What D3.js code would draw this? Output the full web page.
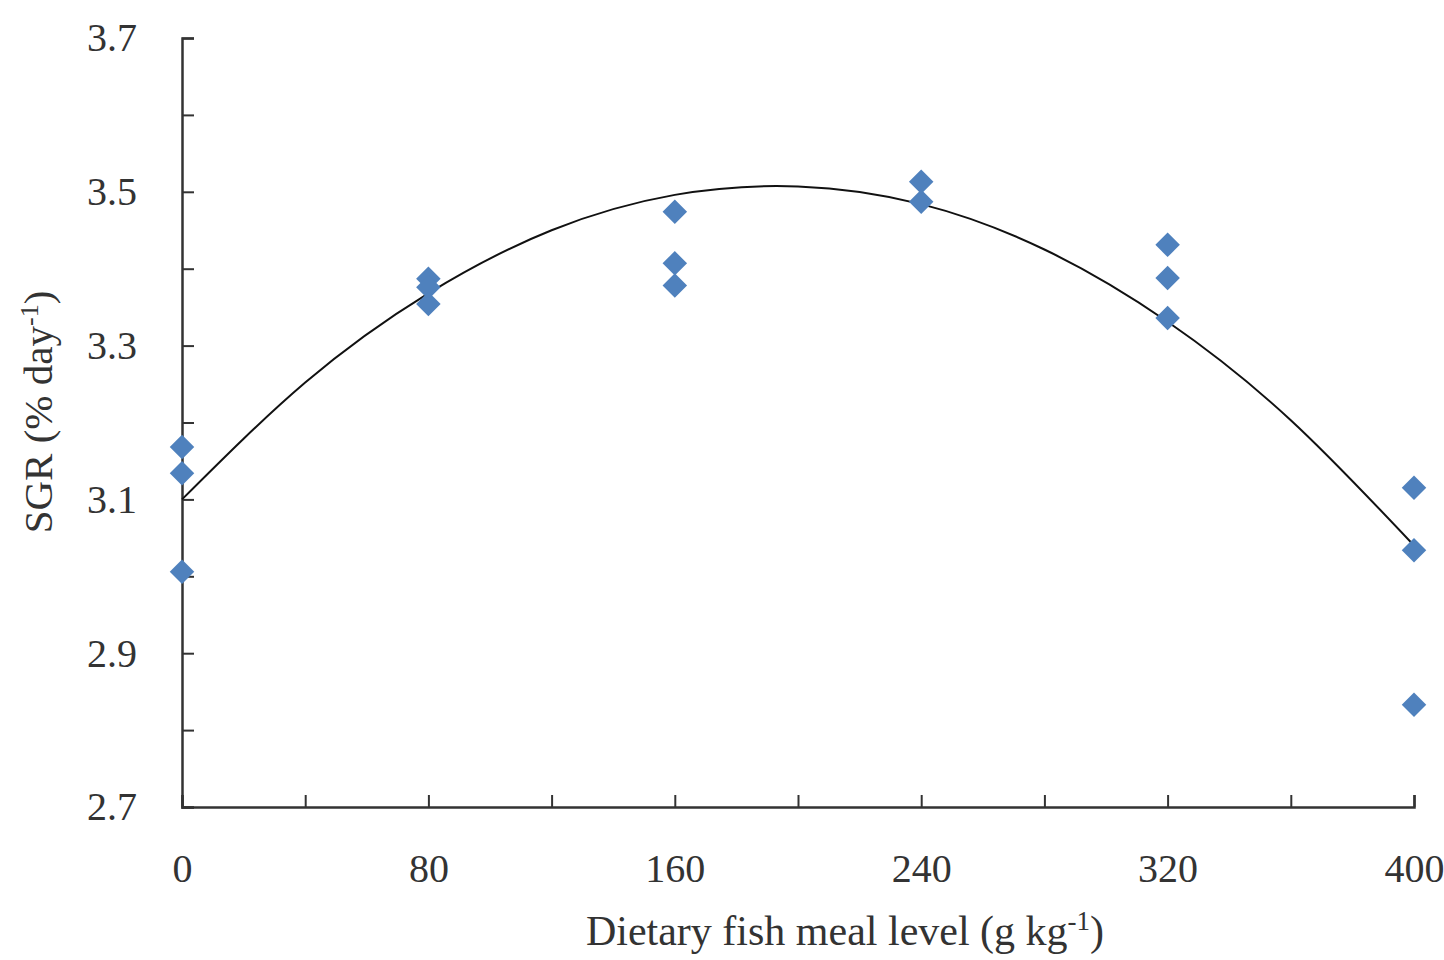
<!DOCTYPE html>
<html>
<head>
<meta charset="utf-8">
<script src="https://cdn.jsdelivr.net/npm/d3@7"></script>
<style>
  body { margin: 0; background: #fff; }
  svg text { font-family: "Liberation Serif", "Times New Roman", serif; fill: #333; }
</style>
</head>
<body>
<svg width="1444" height="960"></svg>
<script>
// fish meal level (g/kg) for each observation
var levels = [0, 0, 0, 80, 80, 80, 160, 160, 160, 240, 240, 320, 320, 320, 400, 400, 400];
// specific growth rate (% per day)
var sgr = [3.168, 3.134, 3.006, 3.387, 3.376, 3.354, 3.474, 3.407, 3.378, 3.513, 3.487, 3.431, 3.388, 3.336, 3.115, 3.034, 2.833];

// trend line
var curveX = [0, 40, 80, 120, 160, 200, 240, 280, 320, 360, 400];
var curveY = [3.100, 3.252, 3.368, 3.450, 3.496, 3.507, 3.484, 3.425, 3.331, 3.203, 3.040];

var xTicks = [0, 40, 80, 120, 160, 200, 240, 280, 320, 360, 400];
var xTickLabels = ["0", "", "80", "", "160", "", "240", "", "320", "", "400"];
var yTicks = [2.7, 2.8, 2.9, 3.0, 3.1, 3.2, 3.3, 3.4, 3.5, 3.6, 3.7];
var yTickLabels = ["2.7", "", "2.9", "", "3.1", "", "3.3", "", "3.5", "", "3.7"];

var svg = d3.select("svg");
var axisColor = "#333";

var x = d3.scaleLinear().domain([0, 400]).range([182, 1414]);
var y = d3.scaleLinear().domain([2.7, 3.7]).range([807, 38]);

// axes, ticks pointing inward
var xAxis = d3.axisBottom(x)
    .tickValues(xTicks)
    .tickSize(-12)
    .tickPadding(61)
    .tickFormat(function(d, i) { return xTickLabels[i]; });

var yAxis = d3.axisLeft(y)
    .tickValues(yTicks)
    .tickSize(-12)
    .tickPadding(45)
    .tickFormat(function(d, i) { return yTickLabels[i]; });

var gx = svg.append("g")
    .attr("transform", "translate(0," + y(2.7) + ")")
    .call(xAxis);

var gy = svg.append("g")
    .attr("transform", "translate(" + x(0) + ",0)")
    .call(yAxis);

[gx, gy].forEach(function(g) {
  g.select(".domain").attr("stroke", axisColor).attr("stroke-width", 2.5);
  g.selectAll(".tick line").attr("stroke", axisColor).attr("stroke-width", 2);
  g.selectAll(".tick text")
      .attr("font-family", "Liberation Serif, serif")
      .attr("font-size", 40)
      .attr("fill", "#333");
});
gx.selectAll(".tick text").attr("dy", "0.35em");

// trend line
var line = d3.line()
    .x(function(d, i) { return x(curveX[i]); })
    .y(function(d) { return y(d); })
    .curve(d3.curveNatural);

svg.append("path")
    .datum(curveY)
    .attr("d", line)
    .attr("fill", "none")
    .attr("stroke", "#111")
    .attr("stroke-width", 2);

// data points as diamonds
var diamond = d3.symbol().type(d3.symbolSquare).size(300);

svg.append("g")
    .selectAll("path")
    .data(sgr)
    .enter().append("path")
    .attr("d", diamond)
    .attr("transform", function(d, i) {
      return "translate(" + x(levels[i]) + "," + y(d) + ") rotate(45)";
    })
    .attr("fill", "#4F81BD");

// axis titles
var xTitle = svg.append("text")
    .attr("x", 845)
    .attr("y", 945)
    .attr("text-anchor", "middle")
    .attr("font-size", 42);
xTitle.append("tspan").text("Dietary fish meal level (g kg");
xTitle.append("tspan").attr("font-size", 27).attr("dy", -15).text("-1");
xTitle.append("tspan").attr("dy", 15).text(")");

var yTitle = svg.append("text")
    .attr("transform", "translate(52,412) rotate(-90)")
    .attr("text-anchor", "middle")
    .attr("font-size", 41);
yTitle.append("tspan").text("SGR (% day");
yTitle.append("tspan").attr("font-size", 26).attr("dy", -14).text("-1");
yTitle.append("tspan").attr("dy", 14).text(")");
</script>
</body>
</html>
